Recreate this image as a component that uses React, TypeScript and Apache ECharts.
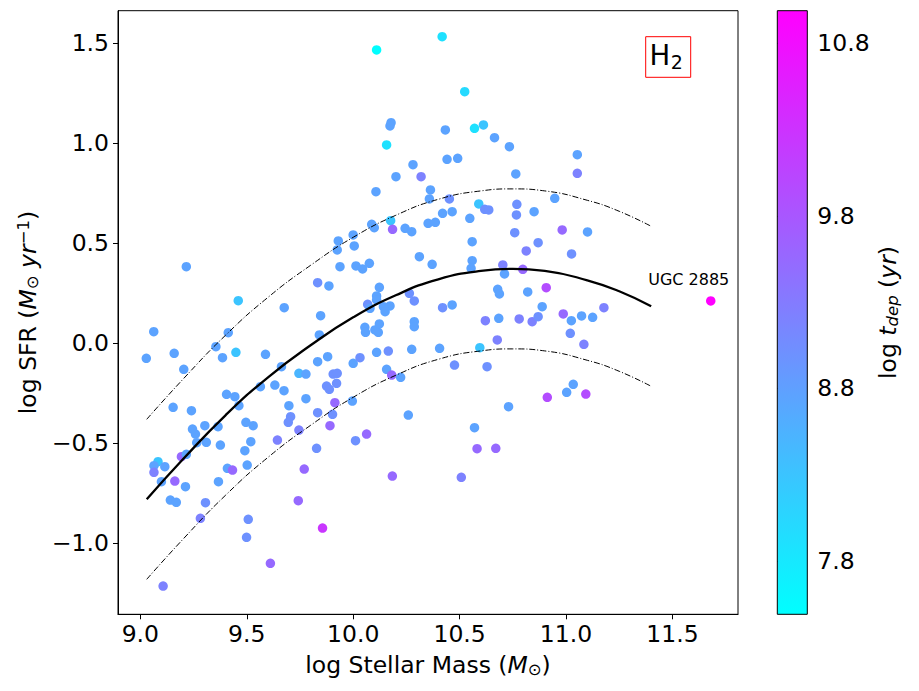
import React, { useEffect, useRef } from "react";
import * as echarts from "echarts";

// ---- data ----
const logMass = [
  10.110, 10.178, 10.173, 10.157, 10.281, 10.201, 10.107, 10.176, 10.087, 10.099,
  10.185, 10.244, 10.275, 10.000, 9.930, 10.005, 9.925, 9.938, 10.013, 10.044,
  10.076, 9.216, 9.833, 9.886, 9.460, 9.676, 10.123, 10.110, 10.110, 10.173,
  10.068, 10.264, 10.287,
  9.847, 10.142, 10.150, 10.079, 10.287, 10.287, 9.063, 9.413, 9.028, 9.159,
  9.355, 9.449, 9.386, 9.588, 9.204, 10.055, 10.058, 10.102, 10.118, 10.123,
  10.165, 10.110, 10.275, 9.833, 9.880, 10.000, 10.032, 9.663, 10.157, 10.181,
  10.223, 9.745, 9.778, 9.906, 9.925, 9.875, 9.888, 9.922, 9.405, 9.444,
  9.632, 9.675, 9.564, 9.778, 9.996, 9.914, 9.903, 9.463, 9.154, 9.240,
  9.698, 9.833, 9.706, 9.695, 9.745, 9.891, 10.259, 9.365, 9.376, 9.496,
  9.530, 9.245, 9.259, 9.265, 9.303, 9.310, 9.519, 9.491, 9.644, 9.828,
  10.011, 10.063, 9.193, 9.216, 9.083, 9.064, 9.064, 9.115, 9.099, 9.162,
  9.212, 9.367, 9.409, 9.433, 9.502, 9.141, 9.169, 9.306, 9.282, 9.507,
  9.499, 9.742, 9.770, 9.856, 9.611, 9.107, 10.184, 9.841,
  10.418, 10.524, 10.433, 10.570, 10.612, 10.664, 10.734, 10.441, 10.491, 10.319,
  11.053, 11.053, 10.764, 10.363, 10.358, 10.452, 10.420, 10.465, 10.590, 10.618,
  10.637, 10.548, 10.352, 10.386, 10.769, 10.767, 10.850, 10.947, 10.982, 11.101,
  10.759, 10.813, 10.869, 11.026, 10.559, 10.311, 10.371, 10.559, 10.554, 10.703,
  10.711, 10.797, 10.907, 10.679, 10.687, 10.820, 10.420, 10.465, 10.888, 11.178,
  10.987, 11.025, 11.073, 11.125, 10.621, 10.684, 10.780, 10.841, 10.869, 11.020,
  11.084, 10.406, 10.595, 10.677, 10.476, 10.629, 10.912, 11.003, 11.034, 11.093,
  10.730, 10.570, 10.582, 10.670, 10.508,
];
const logSFR = [
  1.467, 1.103, 1.087, 0.992, 0.893, 0.833, 0.758, 0.613, 0.595, 0.578,
  0.570, 0.575, 0.558, 0.542, 0.512, 0.487, 0.467, 0.383, 0.387, 0.372,
  0.400, 0.383, 0.303, 0.287, 0.213, 0.178, 0.280, 0.237, 0.217, 0.187,
  0.195, 0.250, 0.212,
  0.138, 0.183, 0.158, 0.175, 0.108, 0.083, 0.058, 0.053, -0.075, -0.050,
  -0.017, -0.045, -0.072, -0.055, -0.130, 0.080, 0.055, 0.067, 0.055, 0.097,
  -0.039, -0.045, -0.030, -0.092, -0.067, -0.100, -0.072, -0.117, -0.130, -0.159,
  -0.170, -0.150, -0.154, -0.154, -0.150, -0.214, -0.230, -0.200, -0.255, -0.267,
  -0.209, -0.237, -0.217, -0.277, -0.289, -0.297, -0.355, -0.312, -0.320, -0.337,
  -0.312, -0.347, -0.367, -0.395, -0.434, -0.412, -0.359, -0.417, -0.509, -0.395,
  -0.412, -0.429, -0.454, -0.497, -0.412, -0.495, -0.492, -0.537, -0.484, -0.525,
  -0.487, -0.454, -0.567, -0.555, -0.592, -0.612, -0.645, -0.617, -0.692, -0.689,
  -0.717, -0.692, -0.625, -0.634, -0.609, -0.784, -0.795, -0.797, -0.875, -0.880,
  -0.970, -0.787, -0.629, -0.924, -1.100, -1.214, -0.664, 0.042,
  1.533, 1.258, 1.067, 1.075, 1.092, 1.028, 0.983, 0.920, 0.925, 0.833,
  0.943, 0.850, 0.847, 0.767, 0.722, 0.722, 0.650, 0.658, 0.697, 0.670,
  0.667, 0.625, 0.600, 0.605, 0.695, 0.642, 0.658, 0.725, 0.567, 0.557,
  0.553, 0.462, 0.503, 0.447, 0.508, 0.433, 0.395, 0.413, 0.375, 0.392,
  0.347, 0.370, 0.278, 0.270, 0.247, 0.257, 0.178, 0.192, 0.183, 0.178,
  0.147, 0.113, 0.137, 0.130, 0.113, 0.125, 0.122, 0.108, 0.133, 0.050,
  -0.005, -0.025, -0.022, 0.017, -0.109, -0.117, -0.270, -0.245, -0.205, -0.254,
  -0.317, -0.422, -0.527, -0.525, -0.670,
];
const logTdep = [
  7.5, 8.75, 8.75, 7.9, 8.75, 8.75, 8.75, 8.3, 8.75, 8.75,
  9.55, 8.75, 8.75, 8.75, 8.75, 8.75, 8.75, 8.75, 8.75, 8.75,
  8.75, 8.75, 9.0, 8.75, 8.3, 8.75, 8.75, 8.75, 8.75, 8.75,
  9.0, 9.0, 9.0,
  8.75, 8.75, 8.75, 8.75, 8.75, 8.75, 8.75, 8.75, 8.75, 8.75,
  8.75, 8.3, 8.75, 8.75, 8.75, 8.75, 8.75, 8.75, 8.75, 8.75,
  9.0, 8.75, 8.75, 8.75, 8.75, 8.75, 9.0, 8.75, 8.75, 9.55,
  8.75, 8.5, 8.75, 9.0, 9.0, 9.0, 9.0, 9.0, 8.75, 8.75,
  8.75, 8.75, 8.75, 8.75, 8.75, 9.55, 9.0, 8.75, 8.75, 8.75,
  8.75, 9.0, 9.0, 9.0, 9.2, 9.55, 8.75, 8.75, 8.75, 8.75,
  8.75, 8.75, 8.75, 8.75, 8.75, 8.75, 8.75, 8.75, 9.2, 9.0,
  9.0, 9.55, 9.55, 8.75, 8.3, 8.75, 9.2, 8.75, 8.75, 9.55,
  8.75, 8.75, 8.75, 9.55, 8.75, 8.75, 8.75, 9.0, 9.2, 9.0,
  9.0, 9.55, 9.55, 10.25, 9.55, 9.2, 9.55, 8.75,
  7.9, 8.0, 8.75, 7.9, 8.3, 8.75, 8.75, 8.75, 8.75, 9.2,
  8.75, 9.2, 8.75, 8.75, 8.75, 9.0, 8.75, 8.75, 8.3, 9.0,
  9.0, 8.75, 8.75, 8.75, 9.0, 9.0, 8.75, 8.75, 9.55, 8.75,
  9.0, 9.2, 9.0, 9.0, 8.75, 8.75, 8.75, 8.75, 8.75, 9.2,
  8.75, 9.55, 9.95, 8.75, 8.75, 8.75, 9.0, 8.75, 8.75, 9.2,
  9.55, 8.75, 8.75, 8.75, 9.2, 8.75, 9.2, 9.2, 9.0, 9.0,
  9.2, 8.75, 8.3, 9.2, 9.0, 9.0, 9.95, 8.75, 8.75, 9.95,
  8.75, 8.75, 9.55, 9.55, 9.2,
];

// UGC 2885 (labelled outlier)
const ugcName = "UGC 2885";
const ugcPoint = [11.68, 0.212, 10.99];

// fitted relation and +/- scatter band
const fitMass = [9.03, 9.2, 9.4, 9.6, 9.8, 10.0, 10.2, 10.4, 10.6, 10.75, 10.9, 11.1, 11.25, 11.4];
const fitSFR = [-0.78, -0.58, -0.36, -0.17, -0.01, 0.13, 0.24, 0.32, 0.362, 0.372, 0.362, 0.315, 0.26, 0.185];
const fitUpper = [-0.38, -0.18, 0.04, 0.23, 0.39, 0.53, 0.64, 0.72, 0.762, 0.772, 0.762, 0.715, 0.66, 0.585];
const fitLower = [-1.18, -0.98, -0.76, -0.57, -0.41, -0.27, -0.16, -0.08, -0.038, -0.028, -0.038, -0.085, -0.14, -0.215];

const xTicks = [9.0, 9.5, 10.0, 10.5, 11.0, 11.5];
const yTicks = [-1.0, -0.5, 0.0, 0.5, 1.0, 1.5];
const cbTicks = [7.8, 8.8, 9.8, 10.8];

const X_RANGE = [8.895, 11.808];
const Y_RANGE = [-1.355, 1.663];
const CB_RANGE = [7.49, 10.99];

const FONT = "DejaVu Sans";
const FS = 23.5;

const rich = {
  n: { fontSize: FS, fontFamily: FONT, color: "#000" },
  i: { fontSize: FS, fontFamily: FONT, color: "#000", fontStyle: "italic" },
  s: { fontSize: 16.5, fontFamily: FONT, color: "#000", padding: [9, 0, 0, 0] },
  si: { fontSize: 16.5, fontFamily: FONT, color: "#000", fontStyle: "italic", padding: [9, 0, 0, 0] },
  p: { fontSize: 16.5, fontFamily: FONT, color: "#000", padding: [0, 0, 10, 0] },
};

const fmt = (v: number) => (v < 0 ? "\u2212" + Math.abs(v).toFixed(1) : v.toFixed(1));

export default function App() {
  const ref = useRef<HTMLDivElement>(null);
  useEffect(() => {
    if (!ref.current) return;
    const chart = echarts.init(ref.current, undefined, { renderer: "svg" });

    const scatterData: any[] = logMass.map((x, k) => [x, logSFR[k], logTdep[k]]);
    scatterData.push({
      value: ugcPoint,
      label: {
        show: true,
        formatter: ugcName,
        position: "top",
        offset: [-22, -4],
        fontSize: 16,
        fontFamily: FONT,
        color: "#000",
      },
    });

    const line = (ys: number[]) => fitMass.map((x, k) => [x, ys[k]]);

    const option: any = {
      animation: false,
      backgroundColor: "#fff",
      textStyle: { fontFamily: FONT },
      grid: [
        { left: 118, top: 10.7, right: 181, bottom: 76.7, show: true, borderColor: "#000", borderWidth: 1, backgroundColor: "transparent" },
        { left: 777.3, top: 10.7, width: 30, bottom: 76.7, show: false },
      ],
      xAxis: [
        {
          type: "value",
          gridIndex: 0,
          min: X_RANGE[0],
          max: X_RANGE[1],
          splitLine: { show: false },
          axisLine: { show: true, onZero: false, lineStyle: { color: "#000", width: 1 } },
          axisTick: { show: true, length: 5, lineStyle: { color: "#000", width: 1 }, customValues: xTicks },
          axisLabel: { customValues: xTicks, formatter: fmt, fontSize: FS, fontFamily: FONT, color: "#000", margin: 8 },
          name: "{n|log Stellar Mass (}{i|M}{s|\u2299}{n|)}",
          nameLocation: "middle",
          nameGap: 38,
          nameTextStyle: { rich },
        },
        {
          type: "value",
          gridIndex: 1,
          min: 0,
          max: 1,
          show: false,
        },
      ],
      yAxis: [
        {
          type: "value",
          gridIndex: 0,
          min: Y_RANGE[0],
          max: Y_RANGE[1],
          splitLine: { show: false },
          axisLine: { show: true, onZero: false, lineStyle: { color: "#000", width: 1 } },
          axisTick: { show: true, length: 5, lineStyle: { color: "#000", width: 1 }, customValues: yTicks },
          axisLabel: { customValues: yTicks, formatter: fmt, fontSize: FS, fontFamily: FONT, color: "#000", margin: 9 },
          name: "{n|log SFR (}{i|M}{s|\u2299}{n| }{i|yr}{p|\u22121}{n|)}",
          nameLocation: "middle",
          nameGap: 74,
          nameTextStyle: { rich },
        },
        {
          type: "value",
          gridIndex: 1,
          position: "right",
          min: CB_RANGE[0],
          max: CB_RANGE[1],
          splitLine: { show: false },
          axisLine: { show: false },
          axisTick: { show: true, length: 5, lineStyle: { color: "#000", width: 1 }, customValues: cbTicks },
          axisLabel: { customValues: cbTicks, formatter: (v: number) => v.toFixed(1), fontSize: FS, fontFamily: FONT, color: "#000", margin: 10 },
          name: "{n|log }{i|t}{si|dep}{n| (}{i|yr}{n|)}",
          nameLocation: "middle",
          nameGap: 68,
          nameRotate: 90,
          nameTextStyle: { rich },
        },
      ],
      visualMap: {
        show: false,
        seriesIndex: 0,
        dimension: 2,
        min: CB_RANGE[0],
        max: CB_RANGE[1],
        inRange: { color: ["#00ffff", "#ff00ff"] },
      },
      series: [
        {
          type: "scatter",
          xAxisIndex: 0,
          yAxisIndex: 0,
          symbol: "circle",
          symbolSize: 9.5,
          itemStyle: { opacity: 1 },
          data: scatterData,
          z: 2,
        },
        {
          type: "line",
          xAxisIndex: 0,
          yAxisIndex: 0,
          data: line(fitSFR),
          smooth: true,
          showSymbol: false,
          symbol: "none",
          lineStyle: { color: "#000", width: 2.3 },
          z: 3,
        },
        {
          type: "line",
          xAxisIndex: 0,
          yAxisIndex: 0,
          data: line(fitUpper),
          smooth: true,
          showSymbol: false,
          symbol: "none",
          lineStyle: { color: "#000", width: 1, type: [6, 2, 1, 2] },
          z: 3,
        },
        {
          type: "line",
          xAxisIndex: 0,
          yAxisIndex: 0,
          data: line(fitLower),
          smooth: true,
          showSymbol: false,
          symbol: "none",
          lineStyle: { color: "#000", width: 1, type: [6, 2, 1, 2] },
          z: 3,
        },
        {
          type: "custom",
          xAxisIndex: 1,
          yAxisIndex: 1,
          data: [[0, CB_RANGE[0], 1, CB_RANGE[1]]],
          renderItem: (params: any, api: any) => {
            const p0 = api.coord([api.value(0), api.value(1)]);
            const p1 = api.coord([api.value(2), api.value(3)]);
            return {
              type: "rect",
              shape: { x: p0[0], y: p1[1], width: p1[0] - p0[0], height: p0[1] - p1[1] },
              style: {
                fill: new echarts.graphic.LinearGradient(0, 1, 0, 0, [
                  { offset: 0, color: "#00ffff" },
                  { offset: 1, color: "#ff00ff" },
                ]),
                stroke: "#000",
                lineWidth: 1,
              },
            };
          },
        },
      ],
      graphic: [
        {
          type: "rect",
          shape: { x: 645.7, y: 36.7, width: 45, height: 40.6 },
          style: { fill: "#fff", stroke: "#ff0000", lineWidth: 1 },
          z: 10,
        },
        {
          type: "text",
          x: 649.6,
          y: 55,
          style: { text: "H", fontSize: 27.5, fontFamily: FONT, fill: "#000", verticalAlign: "middle", align: "left" },
          z: 11,
        },
        {
          type: "text",
          x: 670.8,
          y: 61.5,
          style: { text: "2", fontSize: 19, fontFamily: FONT, fill: "#000", verticalAlign: "middle", align: "left" },
          z: 11,
        },
      ],
    };

    chart.setOption(option);
    return () => chart.dispose();
  }, []);

  return (
    <div
      ref={ref}
      style={{ position: "absolute", left: 0, top: 0, width: 919, height: 691, background: "#fff" }}
    />
  );
}
